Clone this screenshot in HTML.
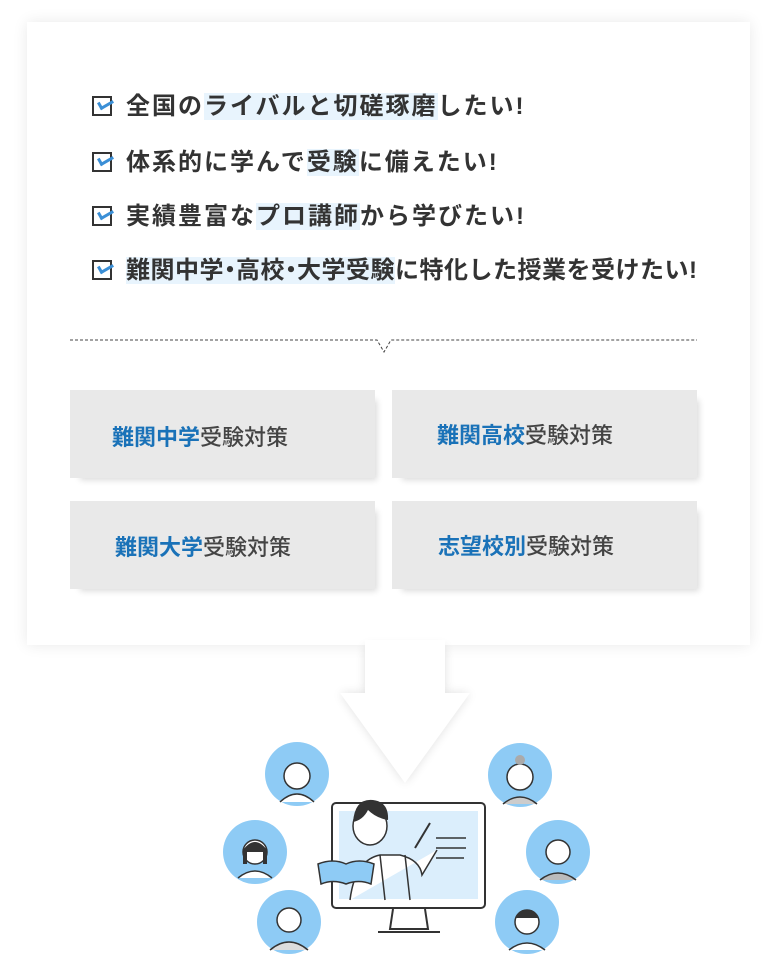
<!DOCTYPE html>
<html><head><meta charset="utf-8"><style>
body{margin:0;width:775px;height:963px;background:#fff;position:relative;overflow:hidden;font-family:"Liberation Sans","Noto Sans CJK JP",sans-serif;}
.card{position:absolute;left:27px;top:22px;width:723px;height:623px;background:#fff;box-shadow:0 0 14px rgba(0,0,0,.09);}
.line{position:absolute;left:92px;font-size:24px;font-weight:bold;color:#333;height:32px;line-height:32px;white-space:nowrap;letter-spacing:2px}
.line .cb{display:inline-block;width:20px;height:20px;border:2px solid #333;box-sizing:border-box;vertical-align:middle;margin-right:14px;position:relative;top:-2px}
.line .cb:after{content:"";position:absolute;left:4px;top:1px;width:12px;height:5px;border-left:3px solid #3b8fd6;border-bottom:3px solid #3b8fd6;transform:rotate(-30deg)}
.dot{display:inline-block;width:12px;overflow:hidden;text-indent:-6px;vertical-align:top;letter-spacing:0}
.hl{background:#e8f4fd}
.box{position:absolute;width:305px;height:88px;background:#e9e9e9;box-shadow:6px 6px 6px -4px rgba(0,0,0,.15);font-size:22px;font-weight:500;color:#444;line-height:88px;box-sizing:border-box}
.box b{color:#1a72b8;font-weight:bold}
</style></head><body>
<div class="card"></div>
<div class="line" style="top:91px"><span class="cb"></span>全国の<span class="hl">ライバルと切磋琢磨</span>したい!</div>
<div class="line" style="top:147px"><span class="cb"></span>体系的に学んで<span class="hl">受験</span>に備えたい!</div>
<div class="line" style="top:201px"><span class="cb"></span>実績豊富な<span class="hl">プロ講師</span>から学びたい!</div>
<div class="line" style="top:255px;letter-spacing:.5px"><span class="cb"></span><span class="hl">難関中学<span class="dot">・</span>高校<span class="dot">・</span>大学受験</span>に特化した授業を受けたい!</div>
<svg style="position:absolute;left:0;top:0" width="775" height="963">
<polyline points="70,340 377,340 384,352 391,340 697,340" fill="none" stroke="#444" stroke-width="1" stroke-dasharray="3,2"/>
<defs><filter id="sh" x="-20%" y="-20%" width="140%" height="140%"><feGaussianBlur stdDeviation="5"/></filter></defs>
<polygon points="365,646 445,646 445,693 470,693 405,783 340,693 365,693" fill="#000" opacity=".12" filter="url(#sh)"/>
<polygon points="365,640 445,640 445,693 470,693 405,783 340,693 365,693" fill="#fff"/>
<g fill="#8ecbf5">
<circle cx="297" cy="774" r="32"/><circle cx="255" cy="852" r="32"/><circle cx="289" cy="922" r="32"/>
<circle cx="520" cy="775" r="32"/><circle cx="558" cy="852" r="32"/><circle cx="527" cy="922" r="32"/>
</g>
<g stroke="#333" stroke-width="1.5" fill="#fff">
<circle cx="297" cy="776" r="13"/><path d="M280 802 q17-16 34 0" />
<circle cx="255" cy="852" r="12"/><path d="M238 878 q17-14 34 0"/>
<circle cx="289" cy="920" r="12"/><path d="M270 950 q19-16 38 0" fill="#ddd"/>
<circle cx="520" cy="777" r="13"/><path d="M503 804 q17-14 34 0" fill="#ccc"/>
<circle cx="558" cy="852" r="12"/><path d="M540 880 q18-14 36 0" fill="#bbb"/>
<circle cx="527" cy="922" r="12"/><path d="M509 950 q18-14 36 0"/>
</g>
<g fill="#333"><path d="M243 850 q12-16 24 0 v14 h-4 v-12 h-16 v12 h-4z"/><path d="M515 918 q12-16 24 0 h-24z"/><circle cx="520" cy="760" r="5" fill="#aaa"/></g>
<rect x="332" y="803" width="153" height="105" rx="4" fill="#fff" stroke="#333" stroke-width="2"/>
<rect x="339" y="811" width="139" height="88" fill="#dbeefc"/>
<path d="M393 909 l-3 20 h38 l-3-20 M378 932 h62" stroke="#333" stroke-width="2" fill="#fff"/>
<path d="M350 900 q5-40 30-45 h20 q20 5 22 20 l15-25 M380 855 l5 45 M405 855 l5 45" stroke="#333" stroke-width="1.5" fill="#fff"/>
<ellipse cx="370" cy="826" rx="17" ry="19" fill="#fff" stroke="#333" stroke-width="1.5"/>
<path d="M353 822 q2-24 20-22 q16 2 15 20 q-12 -2 -20 -10 q-5 10 -15 12z" fill="#333"/>
<path d="M415 848 l15-25" stroke="#333" stroke-width="2"/>
<path d="M436 838 h30 M436 848 h30 M436 858 h28" stroke="#333" stroke-width="1.5"/>
<path d="M318 864 q15-6 28 0 q13-6 28 0 l-3 20 q-12-5 -25 0 q-13-5 -25 0z" fill="#8ecbf5" stroke="#333" stroke-width="1.5"/>
</svg>
<div class="box" style="left:70px;top:390px;padding-left:42px;line-height:96px"><b>難関中学</b>受験対策</div>
<div class="box" style="left:392px;top:390px;padding-left:45px;line-height:92px"><b>難関高校</b>受験対策</div>
<div class="box" style="left:70px;top:501px;padding-left:45px;line-height:94px"><b>難関大学</b>受験対策</div>
<div class="box" style="left:392px;top:501px;padding-left:46px;line-height:92px"><b>志望校別</b>受験対策</div>
</body></html>
